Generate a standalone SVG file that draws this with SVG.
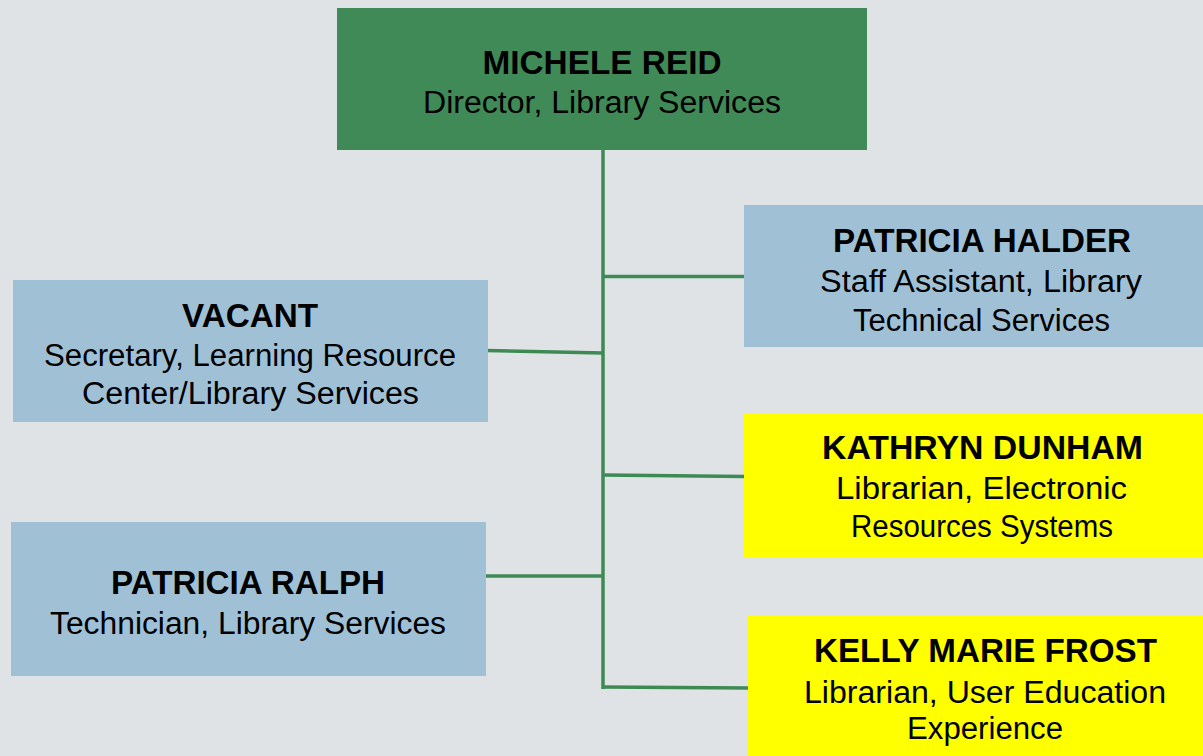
<svg xmlns="http://www.w3.org/2000/svg" width="1203" height="756" viewBox="0 0 1203 756">
<style>
.bg{fill:#dfe3e6}
.green{fill:#3f8a56}
.blue{fill:#a0c0d6}
.yellow{fill:#ffff00}
.t{font-family:"Liberation Sans",Arial,sans-serif;font-weight:bold;font-size:34px;fill:#000;text-anchor:middle}
.s{font-family:"Liberation Sans",Arial,sans-serif;font-size:31px;fill:#000;text-anchor:middle}
.c{stroke:#3d8a55;stroke-width:3.5;fill:none;stroke-linecap:butt}
</style>
<rect class="bg" x="0" y="0" width="1203" height="756"/>
<g id="connectors">
<line class="c" x1="603" y1="150" x2="603" y2="689"/>
<line class="c" x1="603" y1="276.5" x2="744" y2="276.5"/>
<line class="c" x1="487" y1="350.5" x2="603" y2="353"/>
<line class="c" x1="603" y1="475" x2="745" y2="476.5"/>
<line class="c" x1="486" y1="576" x2="603" y2="576"/>
<line class="c" x1="603" y1="687" x2="750" y2="688"/>
</g>
<g id="michele-reid">
<rect class="green" x="337" y="8" width="530" height="142"/>
<text class="t" x="602" y="74" textLength="239" lengthAdjust="spacingAndGlyphs">MICHELE REID</text>
<text class="s" x="602" y="113" textLength="358" lengthAdjust="spacingAndGlyphs">Director, Library Services</text>
</g>
<g id="patricia-halder">
<rect class="blue" x="744" y="205" width="459" height="142"/>
<text class="t" x="982" y="252" textLength="298" lengthAdjust="spacingAndGlyphs">PATRICIA HALDER</text>
<text class="s" x="981" y="292" textLength="322" lengthAdjust="spacingAndGlyphs">Staff Assistant, Library</text>
<text class="s" x="981.5" y="331" textLength="257" lengthAdjust="spacingAndGlyphs">Technical Services</text>
</g>
<g id="vacant">
<rect class="blue" x="13" y="280" width="475" height="142"/>
<text class="t" x="250" y="327" textLength="136" lengthAdjust="spacingAndGlyphs">VACANT</text>
<text class="s" x="250" y="366" textLength="412" lengthAdjust="spacingAndGlyphs">Secretary, Learning Resource</text>
<text class="s" x="250.5" y="404" textLength="337" lengthAdjust="spacingAndGlyphs">Center/Library Services</text>
</g>
<g id="kathryn-dunham">
<rect class="yellow" x="744" y="414" width="459" height="143"/>
<text class="t" x="982.5" y="459" textLength="321" lengthAdjust="spacingAndGlyphs">KATHRYN DUNHAM</text>
<text class="s" x="981.5" y="499" textLength="291" lengthAdjust="spacingAndGlyphs">Librarian, Electronic</text>
<text class="s" x="982" y="537" textLength="262" lengthAdjust="spacingAndGlyphs">Resources Systems</text>
</g>
<g id="patricia-ralph">
<rect class="blue" x="11" y="522" width="475" height="154"/>
<text class="t" x="248" y="594" textLength="274" lengthAdjust="spacingAndGlyphs">PATRICIA RALPH</text>
<text class="s" x="248" y="634" textLength="396" lengthAdjust="spacingAndGlyphs">Technician, Library Services</text>
</g>
<g id="kelly-marie-frost">
<rect class="yellow" x="748" y="616" width="455" height="140"/>
<text class="t" x="985.5" y="662" textLength="343" lengthAdjust="spacingAndGlyphs">KELLY MARIE FROST</text>
<text class="s" x="985" y="703" textLength="362" lengthAdjust="spacingAndGlyphs">Librarian, User Education</text>
<text class="s" x="985" y="739" textLength="156" lengthAdjust="spacingAndGlyphs">Experience</text>
</g>
</svg>
